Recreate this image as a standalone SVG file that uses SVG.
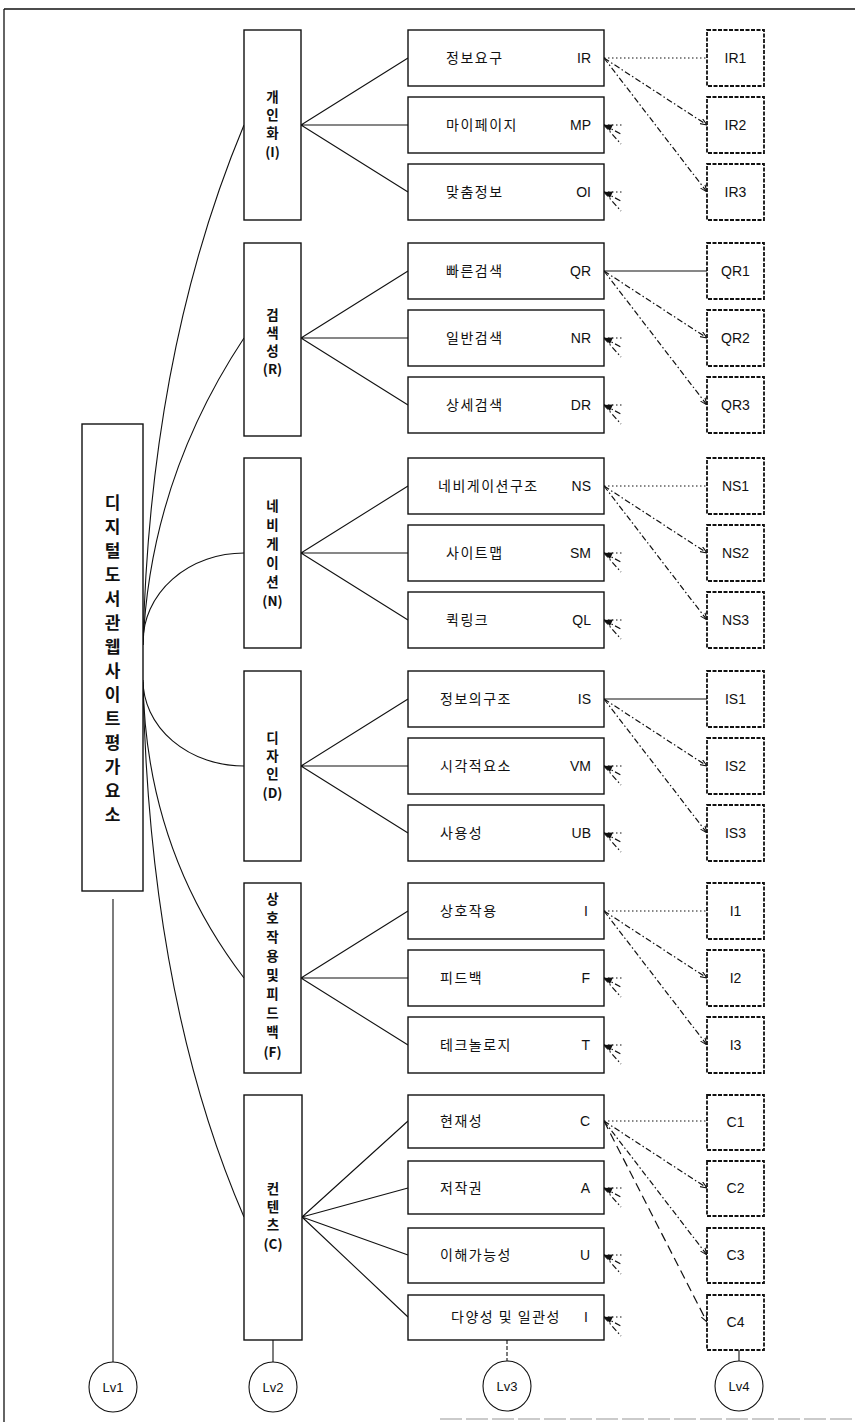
<svg xmlns="http://www.w3.org/2000/svg" xmlns:xlink="http://www.w3.org/1999/xlink" width="855" height="1422" viewBox="0 0 855 1422">
<style>
.bx{fill:#fff;stroke:#111;stroke-width:1.4}
.l4{fill:#fff;stroke:#111;stroke-width:1.8;stroke-dasharray:4 1.5}
.ln{fill:none;stroke:#111;stroke-width:1.1}
.dot{fill:none;stroke:#111;stroke-width:1.2;stroke-dasharray:1.5 2.5}
.dd{fill:none;stroke:#111;stroke-width:1.2;stroke-dasharray:6 2.5 1.5 2.5}
.ds{fill:none;stroke:#111;stroke-width:1.2;stroke-dasharray:9 5}
.ko{font-family:"Noto Sans CJK KR","Noto Sans",sans-serif;font-size:14px;fill:#111;letter-spacing:1.5px}
.kb{font-family:"Noto Sans CJK KR","Noto Sans",sans-serif;font-size:13.5px;font-weight:bold;fill:#111;text-anchor:middle}
.k1{font-family:"Noto Sans CJK KR","Noto Sans",sans-serif;font-size:17px;font-weight:bold;fill:#111;text-anchor:middle}
.cd{font-family:"Liberation Sans",Arial,sans-serif;font-size:14px;fill:#111;text-anchor:end}
.c4{font-family:"Liberation Sans",Arial,sans-serif;font-size:14px;fill:#111;text-anchor:middle}
.lv{font-family:"Liberation Sans",Arial,sans-serif;font-size:13px;fill:#111;text-anchor:middle}
</style>
<defs>
<marker id="ah" viewBox="0 0 10 10" refX="10" refY="5" markerWidth="7" markerHeight="7" orient="auto" markerUnits="userSpaceOnUse">
<path d="M0,1 L10,5 L0,9" fill="none" stroke="#111" stroke-width="1.5"/>
</marker>
<g id="stub">
<path d="M0,0 L9,-0.5 L6,6 Z" fill="#111"/>
<line x1="0" y1="0" x2="18" y2="0" class="dot"/>
<line x1="0" y1="0" x2="17" y2="9" class="dd"/>
<line x1="0" y1="0" x2="17" y2="19" class="dd"/>
</g>
</defs>
<rect x="0" y="0" width="855" height="1422" fill="#fff"/>
<g id="frame">
<line x1="4" y1="9" x2="855" y2="9" stroke="#111" stroke-width="1.3"/>
<line x1="4" y1="9" x2="4" y2="1422" stroke="#111" stroke-width="1.3"/>
<line x1="440" y1="1419" x2="855" y2="1419" stroke="#bbb" stroke-width="1.5" stroke-dasharray="22 4"/>
</g>

<g id="connectors">
<path class="ln" d="M143,645 Q150,350 244,125"/>
<path class="ln" d="M143,645 Q150,480 244,338"/>
<path class="ln" d="M143,642 A101,89 0 0 1 244,553"/>
<path class="ln" d="M143,680 A101,86 0 0 0 244,766"/>
<path class="ln" d="M143,682 Q146,850 244,978"/>
<path class="ln" d="M143,685 Q150,1000 244,1217"/>
<path class="ln" d="M301,125 L408,58 M301,125 L408,125 M301,125 L408,192"/>
<path class="ln" d="M301,338 L408,271 M301,338 L408,338 M301,338 L408,405"/>
<path class="ln" d="M301,553 L408,486 M301,553 L408,553 M301,553 L408,620"/>
<path class="ln" d="M301,766 L408,699 M301,766 L408,766 M301,766 L408,833"/>
<path class="ln" d="M301,978 L408,911 M301,978 L408,978 M301,978 L408,1045"/>
<path class="ln" d="M302,1217 L408,1121 M302,1217 L408,1188 M302,1217 L408,1255 M302,1217 L408,1317"/>
<line class="dot" x1="604" y1="58" x2="707" y2="58"/>
<line class="dd" x1="604" y1="58" x2="707" y2="125" marker-end="url(#ah)"/>
<line class="dd" x1="604" y1="58" x2="707" y2="192" marker-end="url(#ah)"/>
<line class="ln" x1="604" y1="271" x2="707" y2="271"/>
<line class="dd" x1="604" y1="271" x2="707" y2="338" marker-end="url(#ah)"/>
<line class="dd" x1="604" y1="271" x2="707" y2="405" marker-end="url(#ah)"/>
<line class="dot" x1="604" y1="486" x2="707" y2="486"/>
<line class="dd" x1="604" y1="486" x2="707" y2="553" marker-end="url(#ah)"/>
<line class="dd" x1="604" y1="486" x2="707" y2="620" marker-end="url(#ah)"/>
<line class="ln" x1="604" y1="699" x2="707" y2="699"/>
<line class="dd" x1="604" y1="699" x2="707" y2="766" marker-end="url(#ah)"/>
<line class="dd" x1="604" y1="699" x2="707" y2="833" marker-end="url(#ah)"/>
<line class="dot" x1="604" y1="911" x2="707" y2="911"/>
<line class="dd" x1="604" y1="911" x2="707" y2="978" marker-end="url(#ah)"/>
<line class="dd" x1="604" y1="911" x2="707" y2="1045" marker-end="url(#ah)"/>
<line class="dot" x1="604" y1="1121" x2="707" y2="1121"/>
<line class="dd" x1="604" y1="1121" x2="707" y2="1188" marker-end="url(#ah)"/>
<line class="dd" x1="604" y1="1121" x2="707" y2="1255" marker-end="url(#ah)"/>
<line class="ds" x1="604" y1="1121" x2="707" y2="1322" marker-end="url(#ah)"/>
<use xlink:href="#stub" x="604" y="125"/>
<use xlink:href="#stub" x="604" y="192"/>
<use xlink:href="#stub" x="604" y="338"/>
<use xlink:href="#stub" x="604" y="405"/>
<use xlink:href="#stub" x="604" y="553"/>
<use xlink:href="#stub" x="604" y="620"/>
<use xlink:href="#stub" x="604" y="766"/>
<use xlink:href="#stub" x="604" y="833"/>
<use xlink:href="#stub" x="604" y="978"/>
<use xlink:href="#stub" x="604" y="1045"/>
<use xlink:href="#stub" x="604" y="1188"/>
<use xlink:href="#stub" x="604" y="1255"/>
<use xlink:href="#stub" x="604" y="1317"/>
<line class="ln" x1="113" y1="899" x2="113" y2="1362"/>
<line class="ln" x1="273" y1="1340" x2="273" y2="1362"/>
<line class="ln" x1="507" y1="1340" x2="507" y2="1361" stroke-dasharray="4 2"/>
<line class="ln" x1="739" y1="1350" x2="739" y2="1361"/>
</g>

<g id="lv1">
<rect class="bx" x="82" y="424" width="61" height="467"/>
<text class="k1"><tspan x="112.5" y="509">디</tspan><tspan x="112.5" y="533">지</tspan><tspan x="112.5" y="557">털</tspan><tspan x="112.5" y="581">도</tspan><tspan x="112.5" y="605">서</tspan><tspan x="112.5" y="629">관</tspan><tspan x="112.5" y="653">웹</tspan><tspan x="112.5" y="677">사</tspan><tspan x="112.5" y="701">이</tspan><tspan x="112.5" y="725">트</tspan><tspan x="112.5" y="749">평</tspan><tspan x="112.5" y="773">가</tspan><tspan x="112.5" y="797">요</tspan><tspan x="112.5" y="821">소</tspan></text>
</g>

<g id="lv2-I">
<rect class="bx" x="244" y="30" width="57" height="190"/>
<text class="kb"><tspan x="272.5" y="102">개</tspan><tspan x="272.5" y="120">인</tspan><tspan x="272.5" y="138">화</tspan><tspan x="272.5" y="157">(I)</tspan></text>
</g>
<g id="lv2-R">
<rect class="bx" x="244" y="243" width="57" height="193"/>
<text class="kb"><tspan x="272.5" y="320">검</tspan><tspan x="272.5" y="338">색</tspan><tspan x="272.5" y="356">성</tspan><tspan x="272.5" y="374">(R)</tspan></text>
</g>
<g id="lv2-N">
<rect class="bx" x="244" y="458" width="57" height="190"/>
<text class="kb"><tspan x="272.5" y="511">네</tspan><tspan x="272.5" y="530">비</tspan><tspan x="272.5" y="549">게</tspan><tspan x="272.5" y="568">이</tspan><tspan x="272.5" y="587">션</tspan><tspan x="272.5" y="606">(N)</tspan></text>
</g>
<g id="lv2-D">
<rect class="bx" x="244" y="671" width="57" height="190"/>
<text class="kb"><tspan x="272.5" y="743">디</tspan><tspan x="272.5" y="761">자</tspan><tspan x="272.5" y="779">인</tspan><tspan x="272.5" y="798">(D)</tspan></text>
</g>
<g id="lv2-F">
<rect class="bx" x="244" y="883" width="57" height="190"/>
<text class="kb"><tspan x="272.5" y="904">상</tspan><tspan x="272.5" y="923">호</tspan><tspan x="272.5" y="942">작</tspan><tspan x="272.5" y="961">용</tspan><tspan x="272.5" y="980">및</tspan><tspan x="272.5" y="999">피</tspan><tspan x="272.5" y="1018">드</tspan><tspan x="272.5" y="1037">백</tspan><tspan x="272.5" y="1057">(F)</tspan></text>
</g>
<g id="lv2-C">
<rect class="bx" x="244" y="1095" width="58" height="245"/>
<text class="kb"><tspan x="273" y="1194">컨</tspan><tspan x="273" y="1212">텐</tspan><tspan x="273" y="1230">츠</tspan><tspan x="273" y="1249">(C)</tspan></text>
</g>

<g id="lv3-IR"><rect class="bx" x="408" y="30" width="196" height="56"/><text class="ko" x="446" y="63">정보요구</text><text class="cd" x="591" y="63">IR</text></g>
<g id="lv3-MP"><rect class="bx" x="408" y="97" width="196" height="56"/><text class="ko" x="446" y="130">마이페이지</text><text class="cd" x="591" y="130">MP</text></g>
<g id="lv3-OI"><rect class="bx" x="408" y="164" width="196" height="56"/><text class="ko" x="446" y="197">맞춤정보</text><text class="cd" x="591" y="197">OI</text></g>

<g id="lv3-QR"><rect class="bx" x="408" y="243" width="196" height="56"/><text class="ko" x="446" y="276">빠른검색</text><text class="cd" x="591" y="276">QR</text></g>
<g id="lv3-NR"><rect class="bx" x="408" y="310" width="196" height="56"/><text class="ko" x="446" y="343">일반검색</text><text class="cd" x="591" y="343">NR</text></g>
<g id="lv3-DR"><rect class="bx" x="408" y="377" width="196" height="56"/><text class="ko" x="446" y="410">상세검색</text><text class="cd" x="591" y="410">DR</text></g>

<g id="lv3-NS"><rect class="bx" x="408" y="458" width="196" height="56"/><text class="ko" x="438" y="491">네비게이션구조</text><text class="cd" x="591" y="491">NS</text></g>
<g id="lv3-SM"><rect class="bx" x="408" y="525" width="196" height="56"/><text class="ko" x="446" y="558">사이트맵</text><text class="cd" x="591" y="558">SM</text></g>
<g id="lv3-QL"><rect class="bx" x="408" y="592" width="196" height="56"/><text class="ko" x="446" y="625">퀵링크</text><text class="cd" x="591" y="625">QL</text></g>

<g id="lv3-IS"><rect class="bx" x="408" y="671" width="196" height="56"/><text class="ko" x="440" y="704">정보의구조</text><text class="cd" x="591" y="704">IS</text></g>
<g id="lv3-VM"><rect class="bx" x="408" y="738" width="196" height="56"/><text class="ko" x="440" y="771">시각적요소</text><text class="cd" x="591" y="771">VM</text></g>
<g id="lv3-UB"><rect class="bx" x="408" y="805" width="196" height="56"/><text class="ko" x="440" y="838">사용성</text><text class="cd" x="591" y="838">UB</text></g>

<g id="lv3-I"><rect class="bx" x="408" y="883" width="196" height="56"/><text class="ko" x="440" y="916">상호작용</text><text class="cd" x="588" y="916">I</text></g>
<g id="lv3-F"><rect class="bx" x="408" y="950" width="196" height="56"/><text class="ko" x="440" y="983">피드백</text><text class="cd" x="590" y="983">F</text></g>
<g id="lv3-T"><rect class="bx" x="408" y="1017" width="196" height="56"/><text class="ko" x="440" y="1050">테크놀로지</text><text class="cd" x="590" y="1050">T</text></g>

<g id="lv3-C"><rect class="bx" x="408" y="1095" width="196" height="53"/><text class="ko" x="440" y="1126">현재성</text><text class="cd" x="590" y="1126">C</text></g>
<g id="lv3-A"><rect class="bx" x="408" y="1161" width="196" height="53"/><text class="ko" x="440" y="1193">저작권</text><text class="cd" x="590" y="1193">A</text></g>
<g id="lv3-U"><rect class="bx" x="408" y="1228" width="196" height="55"/><text class="ko" x="440" y="1260">이해가능성</text><text class="cd" x="590" y="1260">U</text></g>
<g id="lv3-I2"><rect class="bx" x="408" y="1295" width="196" height="45"/><text class="ko" x="451" y="1322">다양성 및 일관성</text><text class="cd" x="588" y="1322">I</text></g>

<g id="lv4-IR1"><rect class="l4" x="707" y="30" width="57" height="56"/><text class="c4" x="735.5" y="63">IR1</text></g>
<g id="lv4-IR2"><rect class="l4" x="707" y="97" width="57" height="56"/><text class="c4" x="735.5" y="130">IR2</text></g>
<g id="lv4-IR3"><rect class="l4" x="707" y="164" width="57" height="56"/><text class="c4" x="735.5" y="197">IR3</text></g>
<g id="lv4-QR1"><rect class="l4" x="707" y="243" width="57" height="56"/><text class="c4" x="735.5" y="276">QR1</text></g>
<g id="lv4-QR2"><rect class="l4" x="707" y="310" width="57" height="56"/><text class="c4" x="735.5" y="343">QR2</text></g>
<g id="lv4-QR3"><rect class="l4" x="707" y="377" width="57" height="56"/><text class="c4" x="735.5" y="410">QR3</text></g>
<g id="lv4-NS1"><rect class="l4" x="707" y="458" width="57" height="56"/><text class="c4" x="735.5" y="491">NS1</text></g>
<g id="lv4-NS2"><rect class="l4" x="707" y="525" width="57" height="56"/><text class="c4" x="735.5" y="558">NS2</text></g>
<g id="lv4-NS3"><rect class="l4" x="707" y="592" width="57" height="56"/><text class="c4" x="735.5" y="625">NS3</text></g>
<g id="lv4-IS1"><rect class="l4" x="707" y="671" width="57" height="56"/><text class="c4" x="735.5" y="704">IS1</text></g>
<g id="lv4-IS2"><rect class="l4" x="707" y="738" width="57" height="56"/><text class="c4" x="735.5" y="771">IS2</text></g>
<g id="lv4-IS3"><rect class="l4" x="707" y="805" width="57" height="56"/><text class="c4" x="735.5" y="838">IS3</text></g>
<g id="lv4-I1"><rect class="l4" x="707" y="883" width="57" height="56"/><text class="c4" x="735.5" y="916">I1</text></g>
<g id="lv4-I2"><rect class="l4" x="707" y="950" width="57" height="56"/><text class="c4" x="735.5" y="983">I2</text></g>
<g id="lv4-I3"><rect class="l4" x="707" y="1017" width="57" height="56"/><text class="c4" x="735.5" y="1050">I3</text></g>
<g id="lv4-C1"><rect class="l4" x="707" y="1095" width="57" height="55"/><text class="c4" x="735.5" y="1127">C1</text></g>
<g id="lv4-C2"><rect class="l4" x="707" y="1161" width="57" height="55"/><text class="c4" x="735.5" y="1193">C2</text></g>
<g id="lv4-C3"><rect class="l4" x="707" y="1228" width="57" height="55"/><text class="c4" x="735.5" y="1260">C3</text></g>
<g id="lv4-C4"><rect class="l4" x="707" y="1295" width="57" height="55"/><text class="c4" x="735.5" y="1327">C4</text></g>

<g id="lv-labels">
<ellipse cx="113" cy="1387" rx="24" ry="25" fill="#fff" stroke="#111" stroke-width="1.1"/><text class="lv" x="113" y="1392">Lv1</text>
<ellipse cx="273" cy="1387" rx="24" ry="25" fill="#fff" stroke="#111" stroke-width="1.1"/><text class="lv" x="273" y="1392">Lv2</text>
<ellipse cx="507" cy="1386" rx="24" ry="25" fill="#fff" stroke="#111" stroke-width="1.1"/><text class="lv" x="507" y="1391">Lv3</text>
<ellipse cx="739" cy="1386" rx="24" ry="25" fill="#fff" stroke="#111" stroke-width="1.1"/><text class="lv" x="739" y="1391">Lv4</text>
</g>
</svg>
